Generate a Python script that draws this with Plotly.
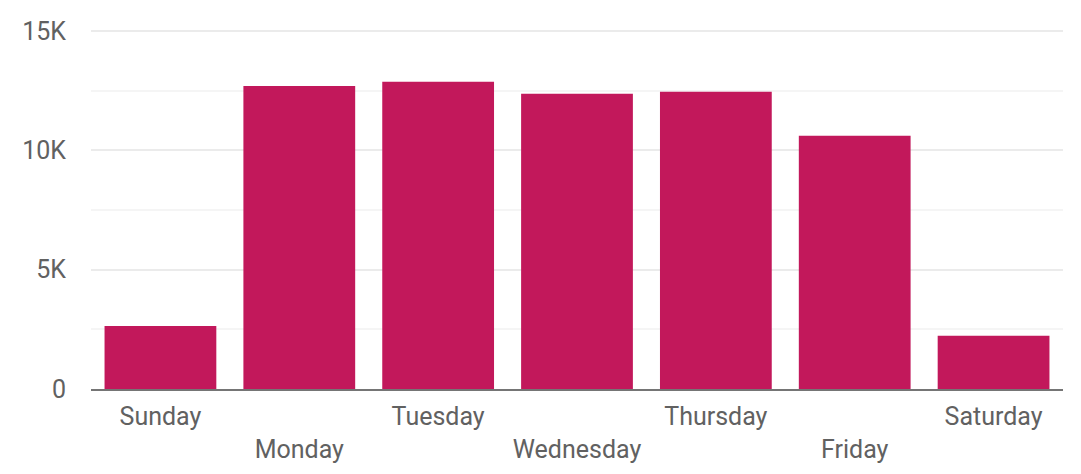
import plotly.graph_objects as go

days = ["Sunday", "Monday", "Tuesday", "Wednesday", "Thursday", "Friday", "Saturday"]
values = [2640, 12700, 12870, 12370, 12450, 10610, 2230]
y_tickvals = [0, 5000, 10000, 15000]
y_ticktext = ["0", "5K", "10K", "15K"]

# staggered labels: every second label pushed down a line
x_ticktext = [d if i % 2 == 0 else "<br>" + d for i, d in enumerate(days)]

fig = go.Figure(go.Bar(x=days, y=values, marker_color="#C2185B", marker_line_width=0))

fig.update_layout(
    width=1081, height=474,
    margin=dict(l=83, r=26, t=21, b=93, autoexpand=False),
    paper_bgcolor="white", plot_bgcolor="white",
    bargap=0.195,
    showlegend=False,
    font=dict(family="Roboto", size=25, color="#616161"),
)
fig.update_xaxes(
    tickvals=days, ticktext=x_ticktext,
    showline=True, linecolor="#757575", linewidth=2,
    ticks="", showgrid=False, automargin=False,
    ticklabelstandoff=4,
    tickfont=dict(size=25, color="#616161"),
)
fig.update_yaxes(
    range=[0, 15084], tickvals=y_tickvals, ticktext=y_ticktext,
    showgrid=True, gridcolor="#ebebeb", gridwidth=2,
    minor=dict(dtick=2500, tick0=0, showgrid=True, gridcolor="#f5f5f5", gridwidth=2),
    zeroline=False, ticks="", automargin=False,
    ticklabelstandoff=24,
    tickfont=dict(size=25, color="#616161"),
)

fig.write_html("out.html")
